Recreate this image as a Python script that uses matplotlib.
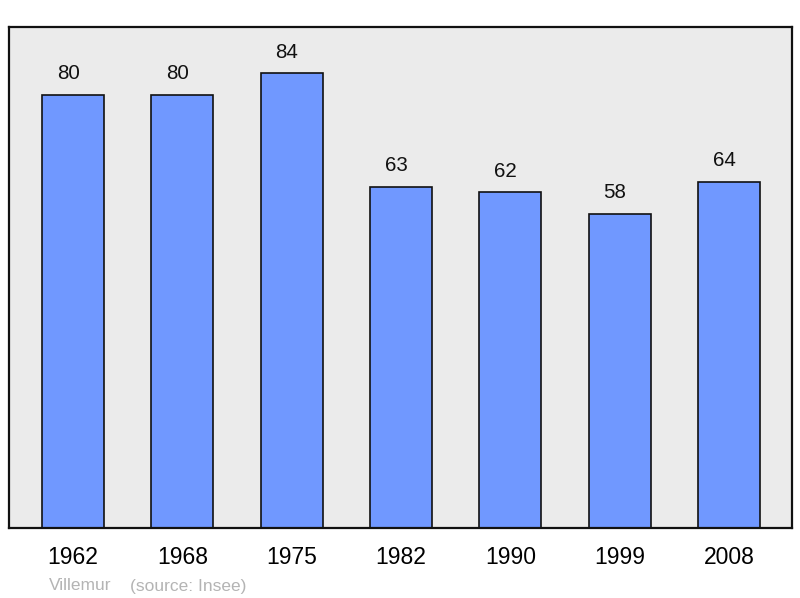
import matplotlib.pyplot as plt

plt.rcParams['font.family'] = ['Liberation Sans', 'DejaVu Sans']

annees = ['1962', '1968', '1975', '1982', '1990', '1999', '2008']
population = [80, 80, 84, 63, 62, 58, 64]

fig = plt.figure(figsize=(8, 5.98), dpi=100)
ax = fig.add_axes([9 / 800, 70 / 598, 783 / 800, 501 / 598])
ax.set_facecolor('#ebebeb')

x = list(range(len(annees)))
ax.bar(x, population, width=0.567, color='#7098ff', edgecolor='#111111', linewidth=1.2, zorder=2)

# etiquettes de valeur au-dessus des barres (un peu decalees a gauche)
for xi, v in zip(x, population):
    ax.annotate(str(v), (xi, v), xytext=(-3.5, 8.5), textcoords='offset points',
                ha='center', va='bottom', fontsize=14.8, color='#111111')

ax.set_xlim(-0.585, 6.576)
ax.set_ylim(0, 92.56)
ax.set_xticks(x)
ax.set_xticklabels(annees, fontsize=16.5)
ax.tick_params(axis='x', length=0, pad=13)
ax.set_yticks([])
for s in ax.spines.values():
    s.set_linewidth(1.6)
    s.set_color('#111111')

fig.text(49 / 800, 1 - 586 / 598, 'Villemur', fontsize=12.5, color='#b4b4b4', va='center')
fig.text(130 / 800, 1 - 586 / 598, '(source: Insee)', fontsize=12.5, color='#b4b4b4', va='center')

fig.savefig('out.png', dpi=100)
